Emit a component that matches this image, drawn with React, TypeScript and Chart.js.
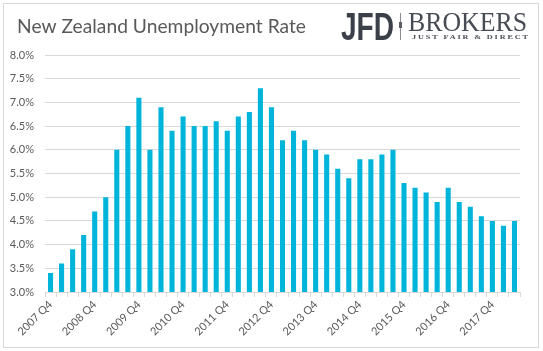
import React, { useEffect, useRef } from 'react';
import { Chart, registerables } from 'chart.js';

Chart.register(...registerables);

const titleText = 'New Zealand Unemployment Rate';

const quarterLabels = [
  '2007 Q4',
  '2008 Q1', '2008 Q2', '2008 Q3', '2008 Q4',
  '2009 Q1', '2009 Q2', '2009 Q3', '2009 Q4',
  '2010 Q1', '2010 Q2', '2010 Q3', '2010 Q4',
  '2011 Q1', '2011 Q2', '2011 Q3', '2011 Q4',
  '2012 Q1', '2012 Q2', '2012 Q3', '2012 Q4',
  '2013 Q1', '2013 Q2', '2013 Q3', '2013 Q4',
  '2014 Q1', '2014 Q2', '2014 Q3', '2014 Q4',
  '2015 Q1', '2015 Q2', '2015 Q3', '2015 Q4',
  '2016 Q1', '2016 Q2', '2016 Q3', '2016 Q4',
  '2017 Q1', '2017 Q2', '2017 Q3', '2017 Q4',
  '2018 Q1', '2018 Q2',
];

const unemploymentRate = [
  3.4,
  3.6, 3.9, 4.2, 4.7,
  5.0, 6.0, 6.5, 7.1,
  6.0, 6.9, 6.4, 6.7,
  6.5, 6.5, 6.6, 6.4,
  6.7, 6.8, 7.3, 6.9,
  6.2, 6.4, 6.2, 6.0,
  5.9, 5.6, 5.4, 5.8,
  5.8, 5.9, 6.0, 5.3,
  5.2, 5.1, 4.9, 5.2,
  4.9, 4.8, 4.6, 4.5,
  4.4, 4.5,
];

const yMin = 3.0;
const yMax = 8.0;
const yStep = 0.5;
const labelEvery = 4;

const W = 543;
const H = 351;

function fitText(ctx: CanvasRenderingContext2D, text: string, x: number, y: number, width: number, font: string, color: string, spacing = 0) {
  ctx.save();
  ctx.font = font;
  (ctx as any).letterSpacing = spacing + 'px';
  ctx.fillStyle = color;
  ctx.textBaseline = 'alphabetic';
  ctx.textAlign = 'left';
  const m = ctx.measureText(text).width - spacing;
  ctx.translate(x, y);
  ctx.scale(width / m, 1);
  ctx.fillText(text, 0, 0);
  ctx.restore();
}

const framePlugin = {
  id: 'frame',
  beforeDraw(chart: any) {
    const ctx = chart.ctx as CanvasRenderingContext2D;
    ctx.save();
    ctx.fillStyle = '#ffffff';
    ctx.fillRect(0, 0, W, H);
    ctx.restore();
  },
  afterDraw(chart: any) {
    const ctx = chart.ctx as CanvasRenderingContext2D;
    ctx.save();
    ctx.strokeStyle = '#d9d9d9';
    ctx.lineWidth = 1;
    ctx.strokeRect(3.5, 3.5, 535, 344);
    ctx.restore();
    // title
    fitText(ctx, titleText, 17, 33, 289, '19px Lato', '#595959');
    // logo
    fitText(ctx, 'JFD', 341, 40, 53, 'bold 38px "Liberation Sans"', '#3b4048');
    ctx.save();
    ctx.fillStyle = '#8a8d92';
    ctx.fillRect(400, 13, 1, 27);
    ctx.fillStyle = '#5a5e64';
    ctx.fillRect(399, 22, 3, 6);
    ctx.restore();
    fitText(ctx, 'BROKERS', 408, 31, 119, '27px "Liberation Serif"', '#474c54');
    fitText(ctx, 'JUST FAIR & DIRECT', 412, 39, 116, 'bold 7px "Liberation Serif"', '#474c54', 1.6);
  },
};

export default function App() {
  const ref = useRef<HTMLCanvasElement>(null);
  useEffect(() => {
    if (!ref.current) return;
    Chart.defaults.font.family = 'Lato';
    const chart = new Chart(ref.current, {
      type: 'bar',
      data: {
        labels: quarterLabels,
        datasets: [
          {
            data: unemploymentRate,
            backgroundColor: '#00b4da',
            borderWidth: 0,
            barPercentage: 0.46,
            categoryPercentage: 1,
          },
        ],
      },
      options: {
        responsive: false,
        animation: false,
        devicePixelRatio: 1,
        layout: { padding: { top: 55, left: 0, right: 23, bottom: 0 } },
        plugins: {
          legend: { display: false },
          title: { display: false },
          tooltip: { enabled: false },
        },
        scales: {
          x: {
            afterFit: (s: any) => { s.height = 59; },
            grid: {
              display: true,
              drawOnChartArea: false,
              drawTicks: true,
              tickLength: 5,
              color: '#d9d9d9',
              offset: true,
            },
            border: { display: true, color: '#d9d9d9' },
            ticks: {
              autoSkip: false,
              minRotation: 45,
              maxRotation: 45,
              padding: 1,
              color: '#595959',
              font: { size: 11, family: 'Lato' },
              callback: (_v: any, i: number) => (i % labelEvery === 0 ? quarterLabels[i] : ''),
            },
          },
          y: {
            min: yMin,
            max: yMax,
            afterFit: (s: any) => { s.width = 45; },
            grid: { color: '#d9d9d9', drawTicks: false },
            border: { display: false },
            ticks: {
              stepSize: yStep,
              padding: 11,
              color: '#595959',
              font: { size: 11, family: 'Lato' },
              callback: (v: any) => Number(v).toFixed(1) + '%',
            },
          },
        },
      },
      plugins: [framePlugin],
    });
    return () => chart.destroy();
  }, []);
  return (
    <div style={{ position: 'absolute', left: 0, top: 0, width: W, height: H }}>
      <canvas ref={ref} width={W} height={H} style={{ display: 'block', width: W, height: H }} />
    </div>
  );
}
